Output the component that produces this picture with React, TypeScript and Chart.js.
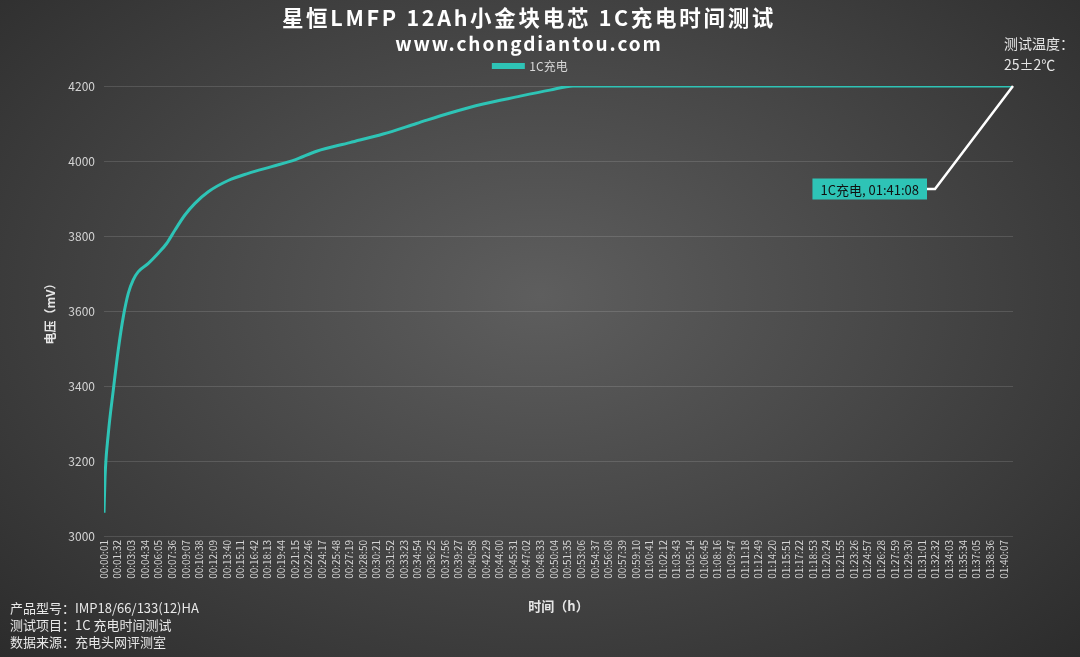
import { useEffect, useRef } from 'react'

import Chart from 'chart.js/auto'

const FONT = '"Noto Sans CJK SC", "Noto Sans", sans-serif'

// x tick labels (every 91 s)
const tickLabels = [
  '00:00:01', '00:01:32', '00:03:03', '00:04:34', '00:06:05', '00:07:36', '00:09:07', '00:10:38',
  '00:12:09', '00:13:40', '00:15:11', '00:16:42', '00:18:13', '00:19:44', '00:21:15', '00:22:46',
  '00:24:17', '00:25:48', '00:27:19', '00:28:50', '00:30:21', '00:31:52', '00:33:23', '00:34:54',
  '00:36:25', '00:37:56', '00:39:27', '00:40:58', '00:42:29', '00:44:00', '00:45:31', '00:47:02',
  '00:48:33', '00:50:04', '00:51:35', '00:53:06', '00:54:37', '00:56:08', '00:57:39', '00:59:10',
  '01:00:41', '01:02:12', '01:03:43', '01:05:14', '01:06:45', '01:08:16', '01:09:47', '01:11:18',
  '01:12:49', '01:14:20', '01:15:51', '01:17:22', '01:18:53', '01:20:24', '01:21:55', '01:23:26',
  '01:24:57', '01:26:28', '01:27:59', '01:29:30', '01:31:01', '01:32:32', '01:34:03', '01:35:34',
  '01:37:05', '01:38:36', '01:40:07',
]

// elapsed time (s) and cell voltage (mV)
const timeSec = [
  1, 8, 30, 63, 96, 130, 163, 196, 230, 297, 363, 419, 475, 541, 608, 697, 830, 964, 1120,
  1275, 1420, 1642, 1864, 2087, 2310, 2532, 2755, 2977, 3132, 4000, 5000, 6068,
]
const voltage = [
  3062, 3158, 3274, 3389, 3496, 3585, 3647, 3683, 3705, 3727, 3754, 3780, 3816, 3856, 3887,
  3918, 3948, 3967, 3985, 4003, 4026, 4049, 4072, 4100, 4128, 4152, 4171, 4189, 4200, 4200,
  4200, 4200,
]

const seriesName = '1C充电'
const endLabel = '01:41:08'

const TEAL = '#2ec4b6'

const toSec = (s: string) => {
  const [h, m, sec] = s.split(':').map(Number)
  return h * 3600 + m * 60 + sec
}

// leader line + box at the last point
const endLabelPlugin = {
  id: 'endLabel',
  afterDatasetsDraw(chart: any) {
    const meta = chart.getDatasetMeta(0)
    const pt = meta.data[meta.data.length - 1]
    if (!pt) return
    const { ctx } = chart
    const px = pt.x
    const py = pt.y
    const ex = px - 78
    const ey = py + 103
    ctx.save()
    ctx.strokeStyle = '#ffffff'
    ctx.lineWidth = 2.5
    ctx.beginPath()
    ctx.moveTo(px, py)
    ctx.lineTo(ex, ey)
    ctx.lineTo(ex - 8, ey)
    ctx.stroke()
    const text = `${seriesName}, ${endLabel}`
    ctx.font = `13px ${FONT}`
    const w = ctx.measureText(text).width + 16
    const h = 21
    ctx.fillStyle = TEAL
    ctx.fillRect(ex - 8 - w, ey - h / 2, w, h)
    ctx.fillStyle = '#111111'
    ctx.textBaseline = 'middle'
    ctx.textAlign = 'left'
    ctx.fillText(text, ex - 8 - w + 8, ey + 1)
    ctx.restore()
  },
}

// empty spacer axes, used only to place the plot area
const spacer = (size: number, position: string) => ({
  position,
  afterFit: (scale: any) => {
    if (position === 'top') scale.height = size
    else scale.width = size
  },
  grid: { display: false, drawTicks: false },
  border: { display: false },
  ticks: { display: false },
})

function ChargeChart() {
  const canvasRef = useRef<HTMLCanvasElement | null>(null)
  const chartRef = useRef<Chart | null>(null)

  useEffect(() => {
    if (!canvasRef.current) return
    const tickValues = tickLabels.map(toSec)

    chartRef.current = new Chart(canvasRef.current, {
      type: 'line',
      data: {
        datasets: [
          {
            label: seriesName,
            data: timeSec.map((t, i) => ({ x: t, y: voltage[i] })),
            borderColor: TEAL,
            backgroundColor: TEAL,
            borderWidth: 3,
            pointRadius: 0,
            cubicInterpolationMode: 'monotone',
          },
        ],
      },
      options: {
        animation: false,
        responsive: true,
        maintainAspectRatio: false,
        layout: { padding: { left: 0, right: 19, top: 42, bottom: 41 } },
        plugins: {
          legend: {
            labels: {
              color: '#d8d8d8',
              font: { family: FONT, size: 12 },
              boxWidth: 30,
              boxHeight: 3,
              padding: 18,
            },
          },
          tooltip: { enabled: false },
        },
        scales: {
          x: {
            type: 'linear',
            min: 1,
            max: toSec(endLabel),
            afterBuildTicks: (scale: any) => {
              scale.ticks = tickValues.map((v) => ({ value: v }))
            },
            afterFit: (scale: any) => {
              scale.height = 80
            },
            grid: { display: false, drawTicks: false },
            border: { display: false },
            ticks: {
              autoSkip: false,
              minRotation: 90,
              maxRotation: 90,
              padding: 4,
              color: '#d4d4d4',
              font: { family: FONT, size: 10 },
              callback: (v: any) => {
                const i = tickValues.indexOf(Number(v))
                return i >= 0 ? tickLabels[i] : ''
              },
            },
            title: {
              display: true,
              text: '时间（h）',
              color: '#e6e6e6',
              font: { family: FONT, size: 13, weight: 'bold' },
              padding: { top: 0, bottom: 2 },
            },
          },
          y: {
            min: 3000,
            max: 4200,
            afterFit: (scale: any) => {
              scale.width = 104
            },
            grid: { color: 'rgba(255,255,255,0.13)', drawTicks: false, lineWidth: 1 },
            border: { display: false },
            ticks: {
              stepSize: 200,
              padding: 9,
              color: '#d4d4d4',
              font: { family: FONT, size: 12 },
              callback: (v: any) => String(v),
            },
            title: {
              display: true,
              text: '电压（mV）',
              color: '#e6e6e6',
              font: { family: FONT, size: 12, weight: 'bold' },
              padding: { top: 43, bottom: 0 },
            },
          },
          y2: spacer(48, 'right'),
          x2: { type: 'linear', ...spacer(4, 'top') },
        },
      },
      plugins: [endLabelPlugin],
    } as any)

    return () => {
      if (chartRef.current) {
        chartRef.current.destroy()
        chartRef.current = null
      }
    }
  }, [])

  return <canvas ref={canvasRef} />
}

export default function App() {
  useEffect(() => {
    document.body.style.margin = '0'
  }, [])

  const noteStyle = { fontSize: 13, lineHeight: '17px', color: '#e8e8e8' }

  return (
    <div
      style={{
        position: 'relative',
        width: 1080,
        height: 657,
        overflow: 'hidden',
        fontFamily: FONT,
        background: 'radial-gradient(ellipse at 50% 45%, #5e5e5e 0%, #484848 45%, #2c2c2c 100%)',
      }}
    >
      <div style={{ position: 'absolute', inset: 0 }}>
        <ChargeChart />
      </div>
      <div
        style={{
          position: 'absolute',
          left: 0,
          width: 1058,
          top: 3,
          textAlign: 'center',
          color: '#ffffff',
          fontWeight: 'bold',
        }}
      >
        <div style={{ fontSize: 21.5, lineHeight: '28px', letterSpacing: 2.7 }}>
          星恒LMFP 12Ah小金块电芯 1C充电时间测试
        </div>
        <div style={{ fontSize: 19, lineHeight: '24px', letterSpacing: 1.9 }}>www.chongdiantou.com</div>
      </div>
      <div style={{ position: 'absolute', left: 1004, top: 33, fontSize: 14, lineHeight: '21px', color: '#e6e6e6' }}>
        <div>测试温度：</div>
        <div>25±2℃</div>
      </div>
      <div style={{ position: 'absolute', left: 10, top: 599, ...noteStyle }}>
        <div>产品型号：IMP18/66/133(12)HA</div>
        <div>测试项目：1C 充电时间测试</div>
        <div>数据来源：充电头网评测室</div>
      </div>
    </div>
  )
}
